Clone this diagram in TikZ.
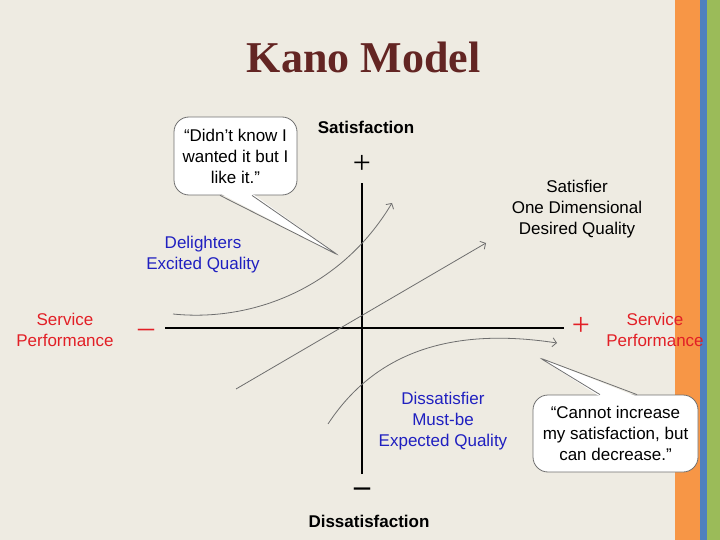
\documentclass[tikz,border=0pt]{standalone}
\usepackage{fontspec}
\setmainfont{Liberation Sans}
\newfontfamily\titlefont{Liberation Serif}
\usetikzlibrary{arrows.meta}

\definecolor{slidebg}{HTML}{EEEBE2}
\definecolor{stripeorange}{HTML}{F79646}
\definecolor{stripeblue}{HTML}{4F81BD}
\definecolor{stripegreen}{HTML}{9BBB59}
\definecolor{titlebrown}{HTML}{632523}
\definecolor{kanored}{HTML}{E21F26}
\definecolor{kanoblue}{HTML}{2020C0}
\definecolor{curvegray}{HTML}{6E6E6E}
\definecolor{bubbleline}{HTML}{707070}

\tikzset{
  axis/.style={line width=1.5pt, black},
  curve/.style={curvegray, line width=0.8pt, -{Straight Barb[length=4pt,width=9pt]}},
  lbl/.style={font=\fontsize{17}{21}\selectfont, align=center, inner sep=0pt},
  sign/.style={font=\titlefont\fontsize{32}{32}\selectfont, inner sep=0pt},
  bubble/.style={draw=bubbleline, fill=white, line width=0.8pt, rounded corners=15pt,
    align=center, inner sep=0pt, font=\fontsize{17}{21}\selectfont},
  pointer/.style={bubbleline, line width=0.8pt, rounded corners=3pt}
}

\begin{document}
\begin{tikzpicture}[x=1pt, y=-1pt]
  \useasboundingbox (0,0) rectangle (720,540);

  % slide background and side stripes
  \fill[slidebg]      (0,0)   rectangle (675,540);
  \fill[stripeorange] (675,0) rectangle (700,540);
  \fill[stripeblue]   (700,0) rectangle (707,540);
  \fill[stripegreen]  (707,0) rectangle (720,540);

  % title
  \node[font=\titlefont\bfseries\fontsize{44}{44}\selectfont, text=titlebrown, anchor=base]
    (title) at (363.5,73) {Kano Model};

  % axes
  \coordinate (xmin) at (165,328);
  \coordinate (xmax) at (564,328);
  \coordinate (ymin) at (362,474);
  \coordinate (ymax) at (362,183);
  \draw[axis] (xmin) -- (xmax);
  \draw[axis] (ymin) -- (ymax);

  % signs at the axis ends
  \node[sign]                  (splus)  at (362,164) {+};
  \node[sign, font=\titlefont\bfseries\fontsize{32}{32}\selectfont] (sminus) at (362,492.5) {–};
  \node[sign, text=kanored]    (pminus) at (146,333.5) {–};
  \node[sign, text=kanored]    (pplus)  at (581,326) {+};

  % axis labels
  \node[lbl, font=\bfseries\fontsize{17}{21}\selectfont] (sat)    at (366,127.5) {Satisfaction};
  \node[lbl, font=\bfseries\fontsize{17}{21}\selectfont] (dissat) at (369,521) {Dissatisfaction};
  \node[lbl, text=kanored] (perfl) at (65,330)  {Service\\Performance};
  \node[lbl, text=kanored] (perfr) at (655,330) {Service\\Performance};

  % curves
  \coordinate (dl0) at (173,314);
  \coordinate (dl1) at (392,203);
  \coordinate (sf0) at (236,389);
  \coordinate (sf1) at (486,243);
  \coordinate (ds0) at (328,424);
  \coordinate (ds1) at (557,343);
  \draw[curve] (dl0) .. controls (250,322) and (340,290) .. (dl1);
  \draw[curve] (sf0) -- (sf1);
  \draw[curve] (ds0) .. controls (370,360) and (440,325) .. (ds1);

  % curve labels
  \node[lbl, text=kanoblue] (delight) at (203,255) {Delighters\\Excited Quality};
  \node[lbl]                (satisf)  at (577,209) {Satisfier\\One Dimensional\\Desired Quality};
  \node[lbl, text=kanoblue] (dissatf) at (443,421) {Dissatisfier\\Must-be\\Expected Quality};

  % callouts
  \node[bubble, minimum width=123pt, minimum height=78pt] (dk) at (235.5,156)
    {“Didn’t know I\\wanted it but I\\like it.”};
  \coordinate (dktip) at (338,255);
  \fill[white, rounded corners=3pt] ([xshift=-15.5pt, yshift=2pt]dk.south) -- (dktip)
    -- ([xshift=16.5pt, yshift=2pt]dk.south) -- cycle;
  \draw[pointer] ([xshift=-15.5pt]dk.south) -- (dktip) -- ([xshift=16.5pt]dk.south);

  \node[bubble, minimum width=165pt, minimum height=77pt] (ci) at (615.5,433.5)
    {“Cannot increase\\my satisfaction, but\\can decrease.”};
  \coordinate (citip) at (540,358);
  \fill[white, rounded corners=3pt] ([xshift=-15.5pt, yshift=-2pt]ci.north) -- (citip)
    -- ([xshift=21.5pt, yshift=-2pt]ci.north) -- cycle;
  \draw[pointer] ([xshift=-15.5pt]ci.north) -- (citip) -- ([xshift=21.5pt]ci.north);
\end{tikzpicture}
\end{document}
